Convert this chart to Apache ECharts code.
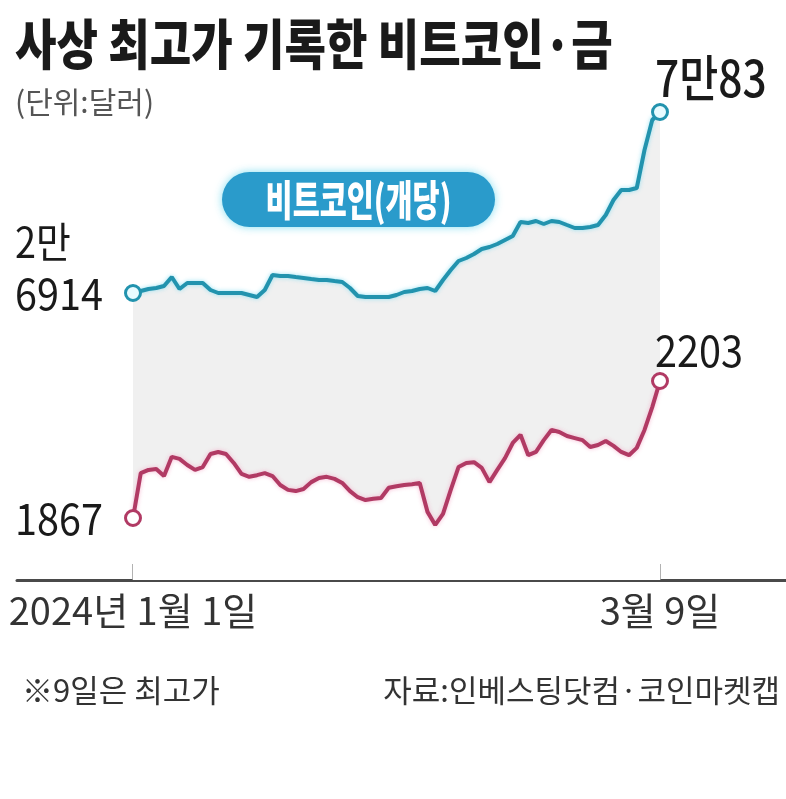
<!DOCTYPE html>
<html><head><meta charset="utf-8">
<script src="https://cdn.jsdelivr.net/npm/echarts@6/dist/echarts.min.js"></script>
<style>html,body{margin:0;padding:0;background:#fff}#c{width:786px;height:799px}</style>
</head><body><div id="c"></div>
<script>
// ---- data ----
// days counted from 2024-01-01 (day 0) to 2024-03-09 (day 68)
const days = Array.from({ length: 69 }, (_, i) => i);
const bitcoin = [26914,27391,27868,28107,28584,30730,27868,29299,29299,29299,27630,26914,26914,26914,26914,26437,25960,27630,31207,30969,30969,30730,30492,30253,30015,30015,29776,29538,28107,26198,25960,25960,25960,25960,26437,27153,27391,27868,28107,27391,30015,32400,34546,35262,36216,37408,37885,38601,39555,40509,43848,43609,44086,43371,44086,43848,43132,42417,42417,42655,43132,45517,49095,51480,51480,51957,61020,68175,70083];
const gold = [1867,1977,1985,1987,1970,2017,2012,1997,1985,1992,2024,2029,2024,2002,1975,1968,1972,1977,1970,1948,1936,1933,1938,1955,1965,1968,1963,1953,1933,1918,1911,1914,1916,1941,1945,1948,1950,1953,1882,1850,1877,1936,1992,2002,2004,1990,1955,1985,2014,2051,2071,2021,2029,2058,2083,2078,2068,2063,2058,2041,2046,2056,2044,2029,2021,2039,2083,2139,2203];
const tickDays = [0, 68];
const tickLabels = ['2024년 1월 1일', '3월 9일'];
const seriesNames = ['비트코인(개당)', '금(트로이온스당)'];
const endLabels = { btcStart: ['2만', '6914'], btcEnd: '7만83', goldStart: '1867', goldEnd: '2203' };
const titleText = '사상 최고가 기록한 비트코인·금';
const unitText = '(단위:달러)';
const noteText = '※9일은 최고가';
const sourceText = '자료:인베스팅닷컴·코인마켓캡';

// ---- build ----
const btcData = days.map((d, i) => [d, bitcoin[i]]);
const goldData = days.map((d, i) => [d, gold[i]]);
const last = days.length - 1;
const endSym = (v, p) => (p.dataIndex === 0 || p.dataIndex === last) ? 'circle' : 'none';

const chart = echarts.init(document.getElementById('c'), null, { renderer: 'canvas' });
const KR = '"Noto Sans CJK KR", "Noto Sans", sans-serif';

function txt(x, y, text, size, opts = {}) {
  return {
    type: 'text', x, y, scaleX: opts.sx || 1, originX: 0, originY: 0, z: 100,
    style: {
      text, fill: opts.color || '#222', font: `${opts.weight || 'normal'} ${size}px ${KR}`,
      align: opts.align || 'left', verticalAlign: 'middle'
    }
  };
}
function pill(x, y, w, h, color, glow, text, size, sx) {
  return {
    type: 'group', x, y, z: 90,
    children: [
      { type: 'rect', shape: { x: 0, y: 0, width: w, height: h, r: h / 2 },
        style: { fill: color, shadowBlur: 8, shadowColor: glow } },
      { type: 'text', x: w / 2, y: h / 2 + 1, scaleX: sx, originX: 0,
        style: { text, fill: '#fff', font: `900 ${size}px ${KR}`, align: 'center', verticalAlign: 'middle' } }
    ]
  };
}

chart.setOption({
  animation: false,
  grid: { left: 17, right: 0, top: 80, bottom: 219, containLabel: false },
  xAxis: {
    type: 'value',
    min: -14.968,
    max: 68 + 16.258,
    axisLine: { show: true, onZero: false, lineStyle: { color: '#4a4a4a', width: 3 } },
    axisTick: { show: true, inside: true, length: 16, customValues: tickDays, lineStyle: { color: '#999', width: 1.5 } },
    axisLabel: {
      show: true, customValues: tickDays, margin: 12,
      formatter: v => tickLabels[tickDays.indexOf(Math.round(v))] || '',
      color: '#333', fontSize: 38, fontFamily: KR
    },
    splitLine: { show: false }
  },
  yAxis: [
    { type: 'value', min: -41535.5, max: 77714.5, show: false, splitLine: { show: false } },
    { type: 'value', min: 1714.94, max: 2941.24, show: false, splitLine: { show: false } }
  ],
  series: [
    {
      name: seriesNames[0], type: 'line', yAxisIndex: 0, data: btcData,
      symbol: endSym, symbolSize: 15, showAllSymbol: true,
      lineStyle: { color: '#2293ae', width: 4, shadowBlur: 4, shadowColor: 'rgba(130,220,240,0.8)' },
      itemStyle: { color: '#e8fbff', borderColor: '#2293ae', borderWidth: 3 },
      areaStyle: { color: '#f0f0f0', origin: 'start', opacity: 1 },
      z: 2
    },
    {
      name: seriesNames[1], type: 'line', yAxisIndex: 1, data: goldData,
      symbol: endSym, symbolSize: 15, showAllSymbol: true,
      lineStyle: { color: '#b13a64', width: 4, shadowBlur: 4, shadowColor: 'rgba(245,170,200,0.8)' },
      itemStyle: { color: '#ffffff', borderColor: '#b13a64', borderWidth: 3 },
      areaStyle: { color: '#ffffff', origin: 'start', opacity: 1 },
      z: 3
    }
  ],
  graphic: [
    txt(15, 44, titleText, 54, { weight: '900', sx: 0.835, color: '#1a1a1a' }),
    txt(15, 102, unitText, 30, { color: '#555' }),
    txt(655, 78, endLabels.btcEnd, 50, { sx: 0.85, color: '#1a1a1a', weight: '500' }),
    txt(15, 242, endLabels.btcStart[0], 42, { sx: 0.9, color: '#1a1a1a' }),
    txt(15, 293, endLabels.btcStart[1], 44, { sx: 0.9, color: '#1a1a1a' }),
    txt(655, 350, endLabels.goldEnd, 44, { sx: 0.9, color: '#1a1a1a' }),
    txt(15, 518, endLabels.goldStart, 44, { sx: 0.9, color: '#1a1a1a' }),
    pill(222, 172, 273, 55, '#2a9bcb', 'rgba(120,220,240,0.9)', seriesNames[0], 42, 0.7),
    pill(222, 380, 272, 55, '#c9416e', 'rgba(240,150,180,0.7)', seriesNames[1], 42, 0.68),
    txt(22, 690, noteText, 31, { color: '#333' }),
    txt(780, 690, sourceText, 31, { color: '#333', align: 'right' })
  ]
});
</script></body></html>
